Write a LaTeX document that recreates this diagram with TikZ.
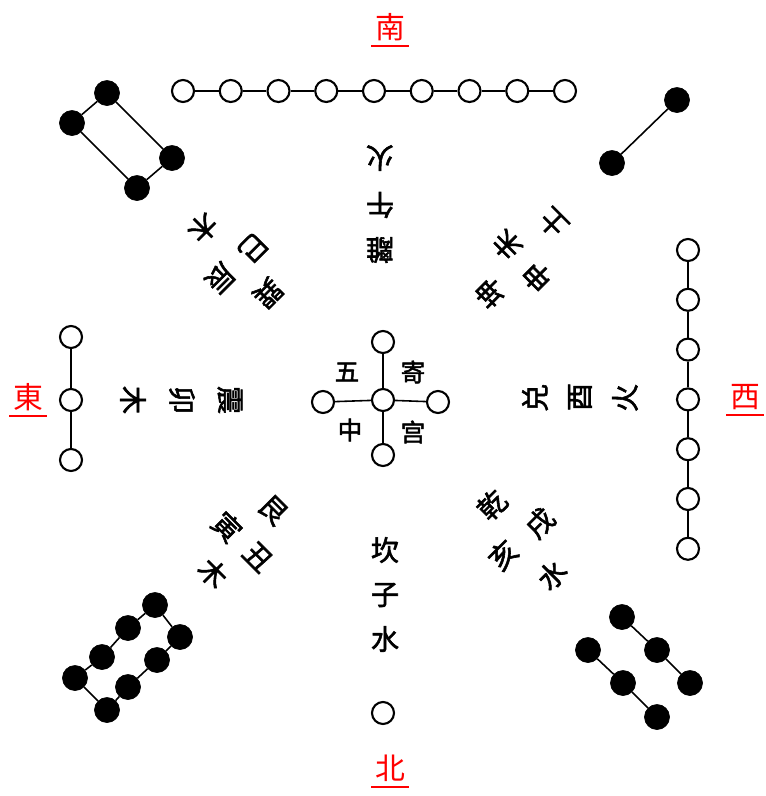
\documentclass[tikz,border=0pt]{standalone}
\usepackage{fontspec}
\newfontfamily\cjk{Noto Sans CJK SC}[AutoFakeBold=2]
\usetikzlibrary{positioning}

\begin{document}
\begin{tikzpicture}[
  x=0.02cm, y=-0.02cm,
  yang/.style={draw, circle, line width=1.2pt, fill=white, minimum size=0.44cm, inner sep=0pt},
  yin/.style={draw, circle, fill=black, minimum size=0.5cm, inner sep=0pt},
  link/.style={line width=0.9pt},
  glyph/.style={font=\cjk\bfseries\fontsize{16}{16}\selectfont, inner sep=0pt},
  cglyph/.style={font=\cjk\bfseries\fontsize{14}{14}\selectfont, inner sep=0pt},
  dirlab/.style={font=\cjk\fontsize{17}{17}\selectfont, text=red, inner sep=0pt},
  uline/.style={red, line width=1.2pt}
]
\useasboundingbox (0,0) rectangle (766,796);

% ---------- Directions ----------
\node[dirlab] (nan) at (390,27) {南};
\node[dirlab] (bei) at (390,768) {北};
\node[dirlab] (dong) at (28,397) {東};
\node[dirlab] (xi) at (745,397) {西};
\foreach \d in {nan,bei,dong,xi}
  \draw[uline] ([yshift=-3pt,xshift=-2pt]\d.south west) -- ([yshift=-3pt,xshift=2pt]\d.south east);

% ---------- South: nine ----------
\foreach \i in {0,...,8}
  \node[yang] (s\i) at ({183+\i*47.75},91) {};
\foreach \i [count=\j] in {0,...,7}
  \draw[link] (s\i) -- (s\j);

% ---------- North: one ----------
\node[yang] (n0) at (383,713) {};

% ---------- East: three ----------
\foreach \i/\y in {0/337,1/400,2/460}
  \node[yang] (e\i) at (71,\y) {};
\draw[link] (e0) -- (e1) (e1) -- (e2);

% ---------- West: seven ----------
\foreach \i in {0,...,6}
  \node[yang] (w\i) at (688,{250+\i*49.8}) {};
\foreach \i [count=\j] in {0,...,5}
  \draw[link] (w\i) -- (w\j);

% ---------- Centre: five ----------
\node[yang] (c0) at (383,400) {};
\node[yang] (cu) at (383,342) {};
\node[yang] (cd) at (383,455) {};
\node[yang] (cl) at (323,402) {};
\node[yang] (cr) at (438,402) {};
\foreach \k in {cu,cd,cl,cr}
  \draw[link] (c0) -- (\k);
\node[cglyph] (wu) at (347,372) {五};
\node[cglyph] (ji) at (413,372) {寄};
\node[cglyph] (zh) at (350,430) {中};
\node[cglyph] (gong) at (413,432) {宫};

% ---------- Southeast: four ----------
\node[yin] (se0) at (107,93) {};
\node[yin] (se1) at (72,123) {};
\node[yin] (se2) at (137,188) {};
\node[yin] (se3) at (172,158) {};
\draw[link] (se0) -- (se1) -- (se2) -- (se3) -- (se0);

% ---------- Southwest: two ----------
\node[yin] (sw0) at (677,100) {};
\node[yin] (sw1) at (612,163) {};
\draw[link] (sw0) -- (sw1);

% ---------- Northeast: eight ----------
\foreach \i/\x/\y in {0/155/605,1/128/628,2/102/657,3/75/678,4/107/710,5/128/687,6/157/660,7/180/637}
  \node[yin] (ne\i) at (\x,\y) {};
\foreach \i [count=\j] in {0,...,6}
  \draw[link] (ne\i) -- (ne\j);
\draw[link] (ne7) -- (ne0);

% ---------- Northwest: six ----------
\foreach \i/\x/\y in {0/622/617,1/657/650,2/690/683,3/588/650,4/623/683,5/657/717}
  \node[yin] (nw\i) at (\x,\y) {};
\draw[link] (nw0) -- (nw1) -- (nw2);
\draw[link] (nw3) -- (nw4) -- (nw5);

% ---------- Trigram labels ----------
\node[glyph, rotate=180] (li1) at (380,158) {火};
\node[glyph, rotate=180] (li2) at (380,205) {午};
\node[glyph, rotate=180] (li3) at (380,250) {離};
\node[glyph] (kan1) at (385,550) {坎};
\node[glyph] (kan2) at (385,595) {子};
\node[glyph] (kan3) at (385,639) {水};
\node[glyph, rotate=-90] (zhen1) at (230,400) {震};
\node[glyph, rotate=-90] (zhen2) at (182,400) {卯};
\node[glyph, rotate=-90] (zhen3) at (133,400) {木};
\node[glyph, rotate=90] (dui1) at (535,398) {兑};
\node[glyph, rotate=90] (dui2) at (580,397) {酉};
\node[glyph, rotate=90] (dui3) at (625,398) {火};
\node[glyph, rotate=-135] (xun1) at (268,293) {巽};
\node[glyph, rotate=-135] (xun2) at (220,278) {辰};
\node[glyph, rotate=-135] (xun3) at (253,248) {巳};
\node[glyph, rotate=-135] (xun4) at (203,228) {木};
\node[glyph, rotate=135] (kun1) at (490,293) {坤};
\node[glyph, rotate=135] (kun2) at (507,245) {未};
\node[glyph, rotate=135] (kun3) at (537,277) {申};
\node[glyph, rotate=135] (kun4) at (553,223) {土};
\node[glyph, rotate=-45] (gen1) at (273,510) {艮};
\node[glyph, rotate=-45] (gen2) at (258,557) {丑};
\node[glyph, rotate=-45] (gen3) at (227,527) {寅};
\node[glyph, rotate=-45] (gen4) at (213,573) {木};
\node[glyph, rotate=45] (qian1) at (492,505) {乾};
\node[glyph, rotate=45] (qian2) at (540,523) {戌};
\node[glyph, rotate=45] (qian3) at (503,555) {亥};
\node[glyph, rotate=45] (qian4) at (552,575) {水};
\end{tikzpicture}
\end{document}
